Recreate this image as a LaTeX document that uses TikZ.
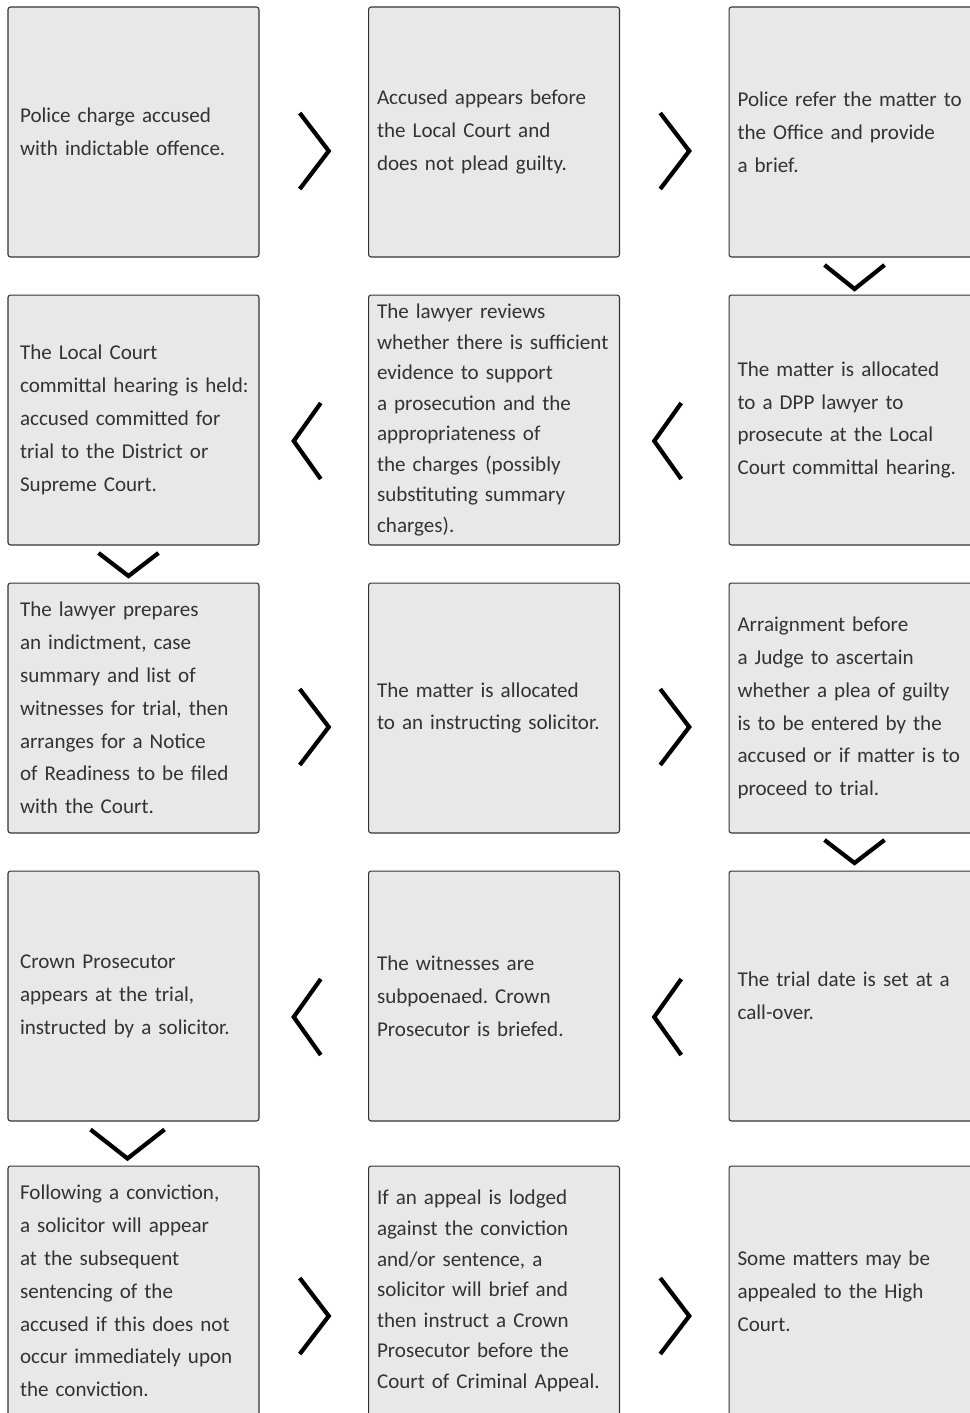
\documentclass[tikz,border=0pt]{standalone}
\usepackage{fontspec}
\setmainfont{Carlito}
\usetikzlibrary{calc}
\definecolor{boxfill}{HTML}{E8E8E8}
\definecolor{boxline}{HTML}{333333}
\definecolor{boxtext}{HTML}{333333}
\newcommand{\steptext}{\fontsize{12pt}{18.7pt}\selectfont\frenchspacing}
\newcommand{\steptight}{\fontsize{12pt}{17.4pt}\selectfont\frenchspacing}
\tikzset{
    stepbox/.style={rectangle,draw=boxline,fill=boxfill,line width=0.6pt,rounded corners=0.05cm,
        minimum width=5.02cm,minimum height=5cm,text width=4.68cm,inner xsep=0.05cm,
        align=left,text=boxtext,font=\steptext},
    leftcol/.style={text width=4.54cm},
    tight/.style={font=\steptight},
    chev/.style={draw=black,line width=2.4pt,miter limit=10},
}
\begin{document}
\begin{tikzpicture}[x=0.02cm,y=-0.02cm]
    \clip (0,0) rectangle (970,1413);
    \useasboundingbox (0,0) rectangle (970,1413);
    % row 1
    \node[stepbox,leftcol] (charge) at (133.5,132) {Police charge accused\\with indictable offence.};
    \node[stepbox] (plea) at (494,132) {Accused appears before\\the Local Court and\\does not plead guilty.};
    \node[stepbox] (refer) at (854.5,132) {\mbox{Police refer the matter to}\\the Office and provide\\a brief.};
    % row 2
    \node[stepbox] (allocate) at (854.5,420) {The matter is allocated\\to a DPP lawyer to\\prosecute at the Local\\\mbox{Court committal hearing.}};
    \node[stepbox,tight] (review) at (494,420) {The lawyer reviews\\\mbox{whether there is sufficient}\\evidence to support\\a prosecution and the\\appropriateness of\\the charges (possibly\\substituting summary\\charges).};
    \node[stepbox,leftcol] (committal) at (133.5,420) {The Local Court\\\mbox{committal hearing is held:}\\accused committed for\\trial to the District or\\Supreme Court.};
    % row 3
    \node[stepbox,leftcol] (indict) at (133.5,708) {The lawyer prepares\\an indictment, case\\summary and list of\\\mbox{witnesses for trial, then}\\arranges for a Notice\\\mbox{of Readiness to be filed}\\with the Court.};
    \node[stepbox] (instruct) at (494,708) {The matter is allocated\\\mbox{to an instructing solicitor.}};
    \node[stepbox] (arraign) at (854.5,708) {Arraignment before\\a Judge to ascertain\\whether a plea of guilty\\is to be entered by the\\\mbox{accused or if matter is to}\\proceed to trial.};
    % row 4
    \node[stepbox] (callover) at (854.5,996) {\mbox{The trial date is set at a}\\call-over.};
    \node[stepbox] (brief) at (494,996) {The witnesses are\\subpoenaed. Crown\\Prosecutor is briefed.};
    \node[stepbox,leftcol] (trial) at (133.5,996) {Crown Prosecutor\\appears at the trial,\\\mbox{instructed by a solicitor.}};
    % row 5
    \node[stepbox,leftcol] (sentence) at (133.5,1291) {Following a conviction,\\a solicitor will appear\\at the subsequent\\sentencing of the\\\mbox{accused if this does not}\\\mbox{occur immediately upon}\\the conviction.};
    \node[stepbox,tight] (appeal) at (494,1291) {If an appeal is lodged\\against the conviction\\and/or sentence, a\\solicitor will brief and\\then instruct a Crown\\Prosecutor before the\\\mbox{Court of Criminal Appeal.}};
    \node[stepbox] (high) at (854.5,1291) {Some matters may be\\appealed to the High\\Court.};
    % chevrons
    \draw[chev] ($(charge.east)!.5!(plea.west)+(-14,-19)$) -- ++(29,38) -- ++(-29,38);
    \draw[chev] ($(plea.east)!.5!(refer.west)+(-14,-19)$) -- ++(29,38) -- ++(-29,38);
    \draw[chev] ($(refer.south)!.5!(allocate.north)+(-30,-11)$) -- ++(30,24) -- ++(30,-24);
    \draw[chev] ($(review.east)!.5!(allocate.west)+(7,-17)$) -- ++(-27,38) -- ++(27,38);
    \draw[chev] ($(committal.east)!.5!(review.west)+(7,-17)$) -- ++(-27,38) -- ++(27,38);
    \draw[chev] ($(committal.south)!.5!(indict.north)+(-35,-11)$) -- ++(30,23) -- ++(30,-23);
    \draw[chev] ($(indict.east)!.5!(instruct.west)+(-14,-19)$) -- ++(29,38) -- ++(-29,38);
    \draw[chev] ($(instruct.east)!.5!(arraign.west)+(-14,-19)$) -- ++(29,38) -- ++(-29,38);
    \draw[chev] ($(arraign.south)!.5!(callover.north)+(-30,-12)$) -- ++(30,23) -- ++(30,-23);
    \draw[chev] ($(brief.east)!.5!(callover.west)+(7,-17)$) -- ++(-27,38) -- ++(27,38);
    \draw[chev] ($(trial.east)!.5!(brief.west)+(7,-17)$) -- ++(-27,38) -- ++(27,38);
    \draw[chev] ($(trial.south)!.5!(sentence.north)+(-43,-14)$) -- ++(37,29) -- ++(37,-29);
    \draw[chev] ($(sentence.east)!.5!(appeal.west)+(-14,-13)$) -- ++(29,38) -- ++(-29,38);
    \draw[chev] ($(appeal.east)!.5!(high.west)+(-14,-13)$) -- ++(29,38) -- ++(-29,38);
\end{tikzpicture}
\end{document}
